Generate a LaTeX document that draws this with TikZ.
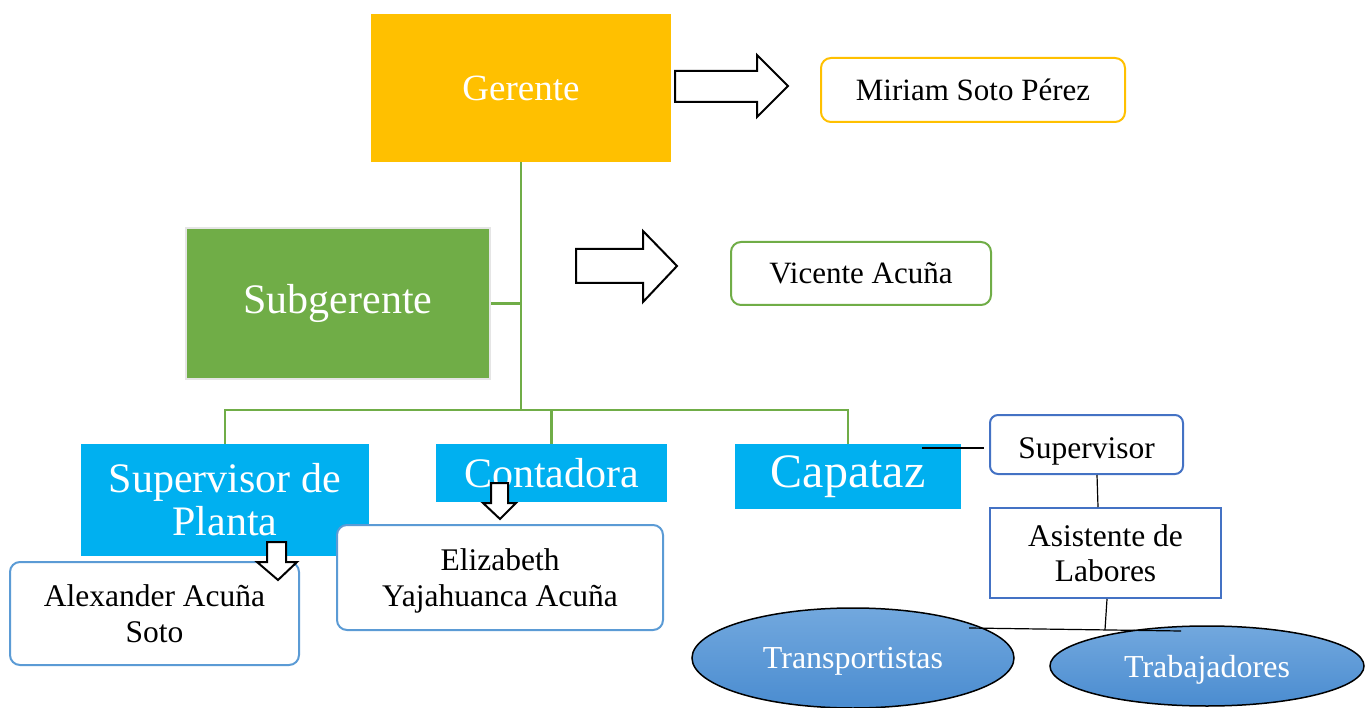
\documentclass[tikz,border=0pt]{standalone}
\usepackage{fontspec}
\setmainfont{Liberation Serif}
\usetikzlibrary{shapes.geometric}
\definecolor{cyellow}{HTML}{FFC000}
\definecolor{cgreen}{HTML}{70AD47}
\definecolor{ccyan}{HTML}{00B0F0}
\definecolor{cblue}{HTML}{5B9BD5}
\definecolor{cdblue}{HTML}{4472C4}
\definecolor{celltop}{HTML}{72A8DE}
\definecolor{cellbot}{HTML}{4A8CD0}
\newcommand{\fsz}[2]{\fontsize{#1}{#2}\selectfont}
\begin{document}
\begin{tikzpicture}[x=1pt,y=-1pt,
  solidbox/.style={rectangle, inner sep=0, text=white, align=center},
  namebox/.style={rectangle, rounded corners=10, draw, line width=2, fill=white, inner sep=0, align=center, text=black, text depth=0pt},
  gline/.style={draw=cgreen, line width=2.5},
  bline/.style={draw=black, line width=1.2},
  blockarrow/.style={draw=black, line width=2, fill=white, line join=miter},
  oval/.style={ellipse, draw=black, line width=1.5, top color=celltop, bottom color=cellbot, inner sep=0, text=white, text depth=0pt}]
\useasboundingbox (0,0) rectangle (1365,708);
\clip (0,0) rectangle (1365,708);

% top level
\node[solidbox, fill=cyellow, minimum width=300, minimum height=148, font=\fsz{37}{40}] (ger) at (521,88) {Gerente};
\node[namebox, draw=cyellow, minimum width=304, minimum height=64, font=\fsz{31}{34}] (miriam) at (973,90) {Miriam Soto Pérez};

\node[solidbox, fill=cgreen, draw=gray!20, line width=2, minimum width=304, minimum height=151, font=\fsz{42}{44}] (sub) at (338,303.5) {Subgerente};
\node[namebox, draw=cgreen, minimum width=260, minimum height=63, font=\fsz{31}{34}] (vic) at (861,273.5) {Vicente Acuña};

% block arrows
\draw[blockarrow] (675,71) -- (757,71) -- (757,55) -- (788,86) -- (757,117) -- (757,102) -- (675,102) -- cycle;
\draw[blockarrow] (576,249) -- (643,249) -- (643,231) -- (677,266) -- (643,302) -- (643,283) -- (576,283) -- cycle;

% second level
\node[solidbox, fill=ccyan, minimum width=288, minimum height=112, font=\fsz{42}{43}] (sp) at (225,500) {Supervisor de\\Planta};
\node[solidbox, fill=ccyan, minimum width=231, minimum height=58, font=\fsz{42}{44}] (con) at (551.5,473) {Contadora};
\node[solidbox, fill=ccyan, minimum width=226, minimum height=65, font=\fsz{48}{50}] (cap) at (848,476.5) {Capataz};

\node[namebox, draw=cblue, minimum width=289, minimum height=103, font=\fsz{31.5}{36}] (alex) at (154.5,613.5) {Alexander Acuña\\Soto};
\node[namebox, draw=cblue, minimum width=326, minimum height=105, font=\fsz{31.5}{36}] (eliz) at (500,577.5) {Elizabeth\\Yajahuanca Acuña};

% green connectors
\coordinate (bar) at (521,410);
\draw[gline] (ger.south) -- (bar);
\draw[gline] (sub.east) -- (sub.east -| ger.south);
\draw[gline] (sp.north) |- (bar) -| (cap.north);
\draw[gline] (con.north) -- (con.north |- bar);

% small down arrows
\draw[blockarrow] (267,542) -- (286,542) -- (286,562) -- (297,562) -- (278,580) -- (257,562) -- (267,562) -- cycle;
\draw[blockarrow] (491,483) -- (508,483) -- (508,503) -- (516,503) -- (500,519) -- (483,503) -- (491,503) -- cycle;

% right branch
\node[namebox, draw=cdblue, rounded corners=8, minimum width=193, minimum height=59, font=\fsz{31.5}{34}, text height=27pt] (supv) at (1086.5,444.5) {Supervisor};
\node[namebox, draw=cdblue, rounded corners=0, minimum width=231, minimum height=90, font=\fsz{31.5}{35}] (asis) at (1105.5,553) {Asistente de\\Labores};

\node[oval, minimum width=322, minimum height=100, font=\fsz{32}{34}] (trans) at (853,658) {Transportistas};
\node[oval, minimum width=314, minimum height=80, font=\fsz{32}{34}] (trab) at (1207,666) {Trabajadores};

\coordinate (c1) at (922,448);
\coordinate (c2) at (984,448);
\draw[bline] (c1) -- (c2);
\draw[bline] ([xshift=10.5]supv.south) -- ([xshift=-7.5]asis.north);
\coordinate (t0) at (1105,629.8);
\coordinate (t1) at (969,628);
\coordinate (t2) at (1181,631);
\draw[bline] ([xshift=1.5]asis.south) -- (t0);
\draw[bline] (t1) -- (t2);
\end{tikzpicture}
\end{document}
